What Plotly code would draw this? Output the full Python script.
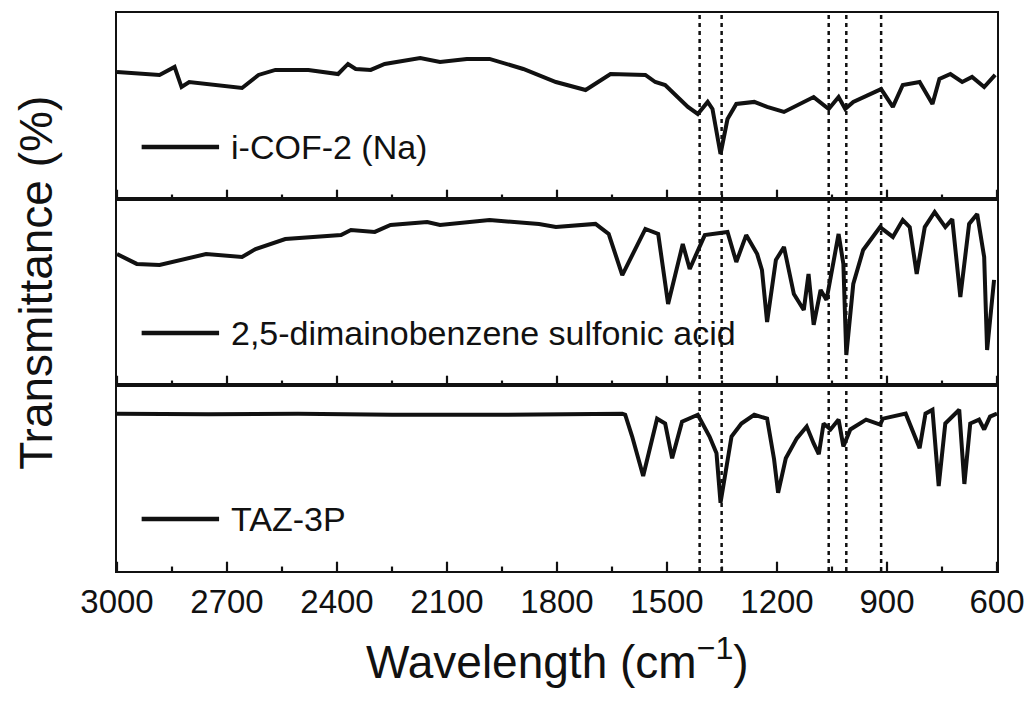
import plotly.graph_objects as go
from plotly.subplots import make_subplots

# ---- data ----
cof_wn = [3000, 2884, 2843, 2824, 2803, 2676, 2659, 2614, 2568, 2478, 2397, 2370, 2349, 2308, 2270,
          2173, 2119, 2046, 1984, 1892, 1803, 1722, 1654, 1559, 1532, 1505, 1443, 1416, 1389, 1376,
          1354, 1335, 1311, 1262, 1227, 1181, 1100, 1059, 1032, 1014, 992, 916, 884, 857, 811, 776,
          757, 727, 695, 668, 635, 605]
cof_t = [68.3, 66.7, 71.0, 60.2, 62.9, 60.2, 59.7, 66.7, 69.4, 69.4, 67.2, 72.6, 69.9, 69.4, 72.6,
         75.8, 73.7, 75.3, 75.3, 69.9, 62.9, 58.6, 67.2, 66.7, 62.9, 61.3, 49.5, 45.7, 52.2, 48.4,
         24.2, 43.0, 51.1, 52.2, 49.5, 46.8, 54.8, 48.4, 54.8, 48.4, 52.2, 59.1, 49.5, 61.3, 62.9, 51.1,
         64.5, 67.2, 62.9, 65.6, 60.2, 66.7]

dab_wn = [3000, 2946, 2884, 2757, 2659, 2622, 2541, 2389, 2362, 2297, 2254, 2154, 2119, 1984, 1849,
          1803, 1695, 1659, 1622, 1559, 1524, 1497, 1457, 1438, 1397, 1335, 1311, 1284, 1254, 1241,
          1227, 1203, 1181, 1154, 1127, 1114, 1100, 1081, 1065, 1032, 1019, 1011, 992, 965, 919, 884,
          857, 838, 819, 797, 770, 741, 722, 700, 676, 654, 635, 627, 608]
dab_t = [70.4, 65.1, 64.5, 70.4, 68.8, 73.1, 78.5, 80.6, 83.3, 82.3, 86.0, 87.6, 86.0, 88.7, 86.6,
         84.9, 86.6, 81.2, 59.1, 83.9, 81.2, 43.5, 75.8, 62.4, 80.6, 82.3, 66.1, 80.6, 70.4, 61.8,
         33.9, 67.2, 74.2, 48.9, 40.3, 59.7, 32.3, 51.1, 45.7, 81.2, 65.1, 16.1, 54.3, 72.6, 84.9, 79.6,
         88.7, 84.9, 59.7, 84.9, 93.0, 84.9, 89.2, 47.3, 86.6, 91.9, 68.8, 18.8, 56.5]

taz_wn = [3000, 2750, 2506, 2250, 1965, 1800, 1622, 1614, 1595, 1565, 1527, 1505, 1486, 1459, 1416,
          1384, 1365, 1354, 1324, 1297, 1262, 1227, 1208, 1197, 1176, 1146, 1119, 1100, 1086, 1073,
          1054, 1032, 1019, 1000, 957, 919, 911, 849, 811, 795, 776, 759, 741, 703, 689, 673, 649,
          635, 619, 600]
taz_t = [84.6, 84.3, 84.6, 84.0, 84.0, 84.3, 84.6, 84.0, 72.3, 51.1, 81.9, 79.3, 60.6, 80.3, 84.0,
         72.3, 63.3, 36.7, 72.3, 79.3, 84.0, 81.9, 60.1, 42.0, 60.6, 71.3, 77.7, 68.6, 62.8, 79.3,
         76.1, 81.4, 67.0, 76.1, 81.4, 78.7, 81.9, 84.6, 66.0, 84.6, 86.7, 45.7, 79.3, 86.7, 46.8, 79.3,
         81.4, 76.1, 83.0, 84.6]

series_names = ["i-COF-2 (Na)", "2,5-dimainobenzene sulfonic acid", "TAZ-3P"]
marker_lines = [1411, 1351, 1059, 1011, 916]
major_ticks = [3000, 2700, 2400, 2100, 1800, 1500, 1200, 900, 600]
minor_ticks = [2850, 2550, 2250, 1950, 1650, 1350, 1050, 750]

# ---- figure ----
FONT = "Liberation Sans, Arial, sans-serif"
INK = "#111111"
fig = make_subplots(rows=3, cols=1, shared_xaxes=True, vertical_spacing=0)

for row, (wn, t) in enumerate([(cof_wn, cof_t), (dab_wn, dab_t), (taz_wn, taz_t)], start=1):
    fig.add_trace(go.Scatter(x=wn, y=t, mode="lines", line=dict(color=INK, width=4),
                             showlegend=False, hoverinfo="skip"), row=row, col=1)
    # inward tick marks along the bottom edge of each panel, drawn as one-sided error bars
    for vals, length in ((major_ticks, 5.0), (minor_ticks, 2.4)):
        fig.add_trace(go.Scatter(x=vals, y=[0] * len(vals), mode="markers",
                                 marker=dict(size=1, opacity=0),
                                 error_y=dict(type="data", symmetric=False,
                                              array=[length] * len(vals),
                                              arrayminus=[0] * len(vals),
                                              width=0, thickness=2.2, color=INK),
                                 showlegend=False, hoverinfo="skip"), row=row, col=1)
    yref = "y" if row == 1 else f"y{row}"
    fig.add_shape(type="line", xref="paper", yref=yref, x0=0.028, x1=0.116, y0=28, y1=28,
                  line=dict(color=INK, width=4.5))
    fig.add_annotation(xref="paper", yref=yref, x=0.127, y=28, xanchor="left", yanchor="middle",
                       text=series_names[row - 1], showarrow=False,
                       font=dict(family=FONT, size=34, color=INK))

fig.update_yaxes(range=[0, 100], showticklabels=False, ticks="", showgrid=False, zeroline=False,
                 showline=True, linewidth=2, linecolor=INK, mirror=True)
fig.update_xaxes(range=[3000, 600], tickvals=major_ticks, ticks="", showgrid=False,
                 zeroline=False, showline=True, linewidth=2, linecolor=INK, mirror=True)
fig.update_xaxes(showticklabels=True, tickfont=dict(family=FONT, size=33, color=INK),
                 row=3, col=1)

for w in marker_lines:
    fig.add_shape(type="line", xref="x", yref="paper", x0=w, x1=w, y0=0, y1=1,
                  line=dict(color=INK, width=2.5, dash="4px,4px"))

fig.add_annotation(xref="paper", yref="paper", x=0.5, y=-0.158, xanchor="center", yanchor="middle",
                   text="Wavelength (cm<sup>−1</sup>)", showarrow=False,
                   font=dict(family=FONT, size=46, color=INK))
fig.add_annotation(xref="paper", yref="paper", x=(35 - 117) / 888, y=0.516, xanchor="center",
                   yanchor="middle", textangle=-90, text="Transmittance (%)", showarrow=False,
                   font=dict(family=FONT, size=46, color=INK))

fig.update_layout(width=1036, height=702, margin=dict(l=117, r=31, t=11, b=131),
                  paper_bgcolor="white", plot_bgcolor="white", showlegend=False)

fig.write_html("out.html")
